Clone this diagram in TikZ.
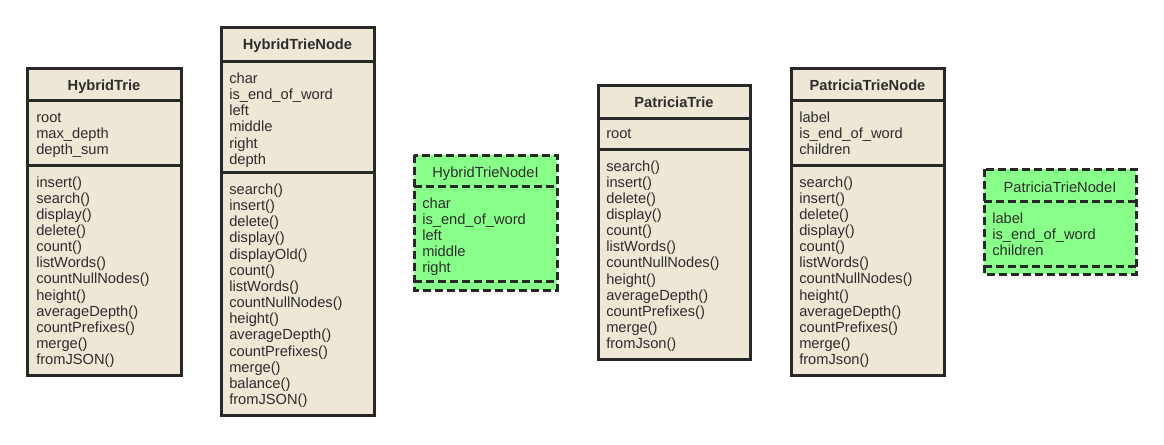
\documentclass[tikz,border=0pt]{standalone}
\usepackage{fontspec}
\setmainfont{Liberation Sans}
\definecolor{beige}{RGB}{238,231,214}
\definecolor{lgreen}{RGB}{136,255,136}
\definecolor{edgec}{RGB}{40,40,40}
\definecolor{txt}{RGB}{45,45,45}
\tikzset{
  boxline/.style={draw=edgec, line width=2.25pt},
  dashline/.style={boxline, dash pattern=on 6pt off 3pt},
  solidbox/.style={boxline, fill=beige},
  dashbox/.style={dashline, fill=lgreen},
  member/.style={anchor=base west, inner sep=0pt, font=\fontsize{11}{13}\selectfont, text=txt},
  titlebold/.style={anchor=base, inner sep=0pt, font=\fontsize{11}{13}\selectfont\bfseries, text=txt},
  titleplain/.style={anchor=base, inner sep=0pt, font=\fontsize{11}{13}\selectfont, text=txt},
}
\begin{document}
\begin{tikzpicture}[x=0.75pt,y=-0.75pt]
\useasboundingbox (0,0) rectangle (1164,444);

% ---------------- HybridTrie
\path[solidbox] (27,68) rectangle (181,375);
\draw[boxline] (27,100) -- (181,100) (27,165) -- (181,165);
\node[titlebold] (HT) at (104,90.5) {HybridTrie};
\foreach \t [count=\i] in {root,max\_depth,depth\_sum}
  \node[member] (HT-a\i) at (36,{122.5+(\i-1)*16.15}) {\t};
\foreach \t [count=\i] in {insert(),search(),display(),delete(),count(),listWords(),countNullNodes(),height(),averageDepth(),countPrefixes(),merge(),fromJSON()}
  \node[member] (HT-m\i) at (36,{187+(\i-1)*16.15}) {\t};

% ---------------- HybridTrieNode
\path[solidbox] (221,27) rectangle (374,415);
\draw[boxline] (221,61) -- (374,61) (221,172.5) -- (374,172.5);
\node[titlebold] (HTN) at (297.5,49.5) {HybridTrieNode};
\foreach \t [count=\i] in {char,is\_end\_of\_word,left,middle,right,depth}
  \node[member] (HTN-a\i) at (229,{83.5+(\i-1)*16.15}) {\t};
\foreach \t [count=\i] in {search(),insert(),delete(),display(),displayOld(),count(),listWords(),countNullNodes(),height(),averageDepth(),countPrefixes(),merge(),balance(),fromJSON()}
  \node[member] (HTN-m\i) at (229,{194.5+(\i-1)*16.15}) {\t};

% ---------------- HybridTrieNodeI
\path[dashbox] (414,155) rectangle (557,290);
\draw[dashline] (414,186) -- (557,186) (414,281) -- (557,281);
\node[titleplain] (HTNI) at (485.5,177) {HybridTrieNodeI};
\foreach \t [count=\i] in {char,is\_end\_of\_word,left,middle,right}
  \node[member] (HTNI-a\i) at (422,{208+(\i-1)*16.15}) {\t};

% ---------------- PatriciaTrie
\path[solidbox] (598,85) rectangle (750,359);
\draw[boxline] (598,118) -- (750,118) (598,149) -- (750,149);
\node[titlebold] (PT) at (674,107.5) {PatriciaTrie};
\node[member] (PT-a1) at (606,138.5) {root};
\foreach \t [count=\i] in {search(),insert(),delete(),display(),count(),listWords(),countNullNodes(),height(),averageDepth(),countPrefixes(),merge(),fromJson()}
  \node[member] (PT-m\i) at (606,{171+(\i-1)*16.15}) {\t};

% ---------------- PatriciaTrieNode
\path[solidbox] (791,68) rectangle (944,375);
\draw[boxline] (791,100) -- (944,100) (791,165) -- (944,165);
\node[titlebold] (PTN) at (867.5,90.5) {PatriciaTrieNode};
\foreach \t [count=\i] in {label,is\_end\_of\_word,children}
  \node[member] (PTN-a\i) at (799,{122.5+(\i-1)*16.15}) {\t};
\foreach \t [count=\i] in {search(),insert(),delete(),display(),count(),listWords(),countNullNodes(),height(),averageDepth(),countPrefixes(),merge(),fromJson()}
  \node[member] (PTN-m\i) at (799,{187+(\i-1)*16.15}) {\t};

% ---------------- PatriciaTrieNodeI
\path[dashbox] (984,169) rectangle (1136,274);
\draw[dashline] (984,201) -- (1136,201) (984,266) -- (1136,266);
\node[titleplain] (PTNI) at (1060,192) {PatriciaTrieNodeI};
\foreach \t [count=\i] in {label,is\_end\_of\_word,children}
  \node[member] (PTNI-a\i) at (992,{223+(\i-1)*16.15}) {\t};
\end{tikzpicture}
\end{document}
